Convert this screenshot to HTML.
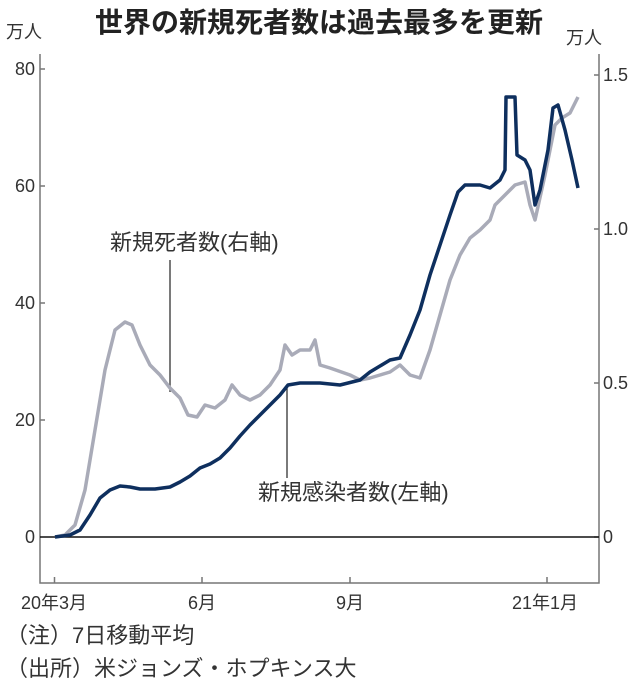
<!DOCTYPE html>
<html><head><meta charset="utf-8"><style>
body{margin:0;background:#fff;width:638px;height:693px;overflow:hidden}
svg{font-family:"Liberation Sans","Noto Sans CJK JP",sans-serif}
</style></head><body>
<svg width="638" height="693" viewBox="0 0 638 693">
<text x="319" y="32" text-anchor="middle" font-size="28" font-weight="bold" fill="#222">世界の新規死者数は過去最多を更新</text>
<text x="6" y="38" font-size="18" fill="#333">万人</text>
<text x="566" y="44" font-size="18" fill="#333">万人</text>
<g stroke="#777" stroke-width="1.5" fill="none">
<path d="M40 54V583H599V54"/>
<path d="M40 69h5M40 186h5M40 303h5M40 420h5M599 75h-5M599 229h-5M599 383h-5M599 537h-5"/>
<path d="M54.5 583v-6M202 583v-6M350 583v-6M547 583v-6"/>
</g>
<line x1="40" y1="537" x2="599" y2="537" stroke="#111" stroke-width="1.5"/>
<g font-size="18" fill="#333">
<text x="35" y="75" text-anchor="end">80</text>
<text x="35" y="192" text-anchor="end">60</text>
<text x="35" y="309" text-anchor="end">40</text>
<text x="35" y="426" text-anchor="end">20</text>
<text x="35" y="543" text-anchor="end">0</text>
<text x="603" y="81">1.5</text>
<text x="603" y="235">1.0</text>
<text x="603" y="389">0.5</text>
<text x="603" y="543">0</text>
<text x="54" y="609" text-anchor="middle">20年3月</text>
<text x="202" y="609" text-anchor="middle">6月</text>
<text x="350" y="609" text-anchor="middle">9月</text>
<text x="545" y="609" text-anchor="middle">21年1月</text>
</g>
<g font-size="22" fill="#333">
<text x="6" y="643">（注）7日移動平均</text>
<text x="6" y="676">（出所）米ジョンズ・ホプキンス大</text>
<text x="110" y="250">新規死者数(右軸)</text>
<text x="258" y="500">新規感染者数(左軸)</text>
</g>
<path d="M170 260V392M287 388V478" stroke="#333" stroke-width="1.3"/>
<polyline fill="none" stroke="#a9abb8" stroke-width="3.5" stroke-linejoin="round" points="55,537 65,535 75,525 85,490 95,430 105,370 115,330 125,322 132,325 140,345 150,365 160,375 170,388 180,398 188,415 197,417 205,405 215,408 225,400 232,385 240,395 250,400 260,395 270,385 280,370 285,345 292,355 300,350 310,350 315,340 320,365 330,368 350,375 360,380 370,378 380,375 390,372 400,365 410,375 420,378 430,350 440,315 450,280 460,255 470,238 480,230 490,220 495,205 505,195 515,185 525,182 530,205 535,220 545,175 555,125 562,118 570,113 578,97"/>
<polyline fill="none" stroke="#0e2f5e" stroke-width="3.5" stroke-linejoin="round" points="55,537 70,535 80,530 90,515 100,498 110,490 120,486 130,487 140,489 155,489 170,487 180,482 190,476 200,468 210,464 220,458 230,448 240,436 250,425 260,415 270,405 280,395 288,385 300,383 320,383 340,385 360,380 370,372 380,366 390,360 400,358 410,335 420,310 430,275 440,245 450,215 458,192 465,185 480,185 490,188 500,180 505,170 506,97 515,97 517,155 525,160 530,170 535,205 540,190 548,150 553,108 558,105 565,130 572,160 578,188"/>
</svg>
</body></html>
